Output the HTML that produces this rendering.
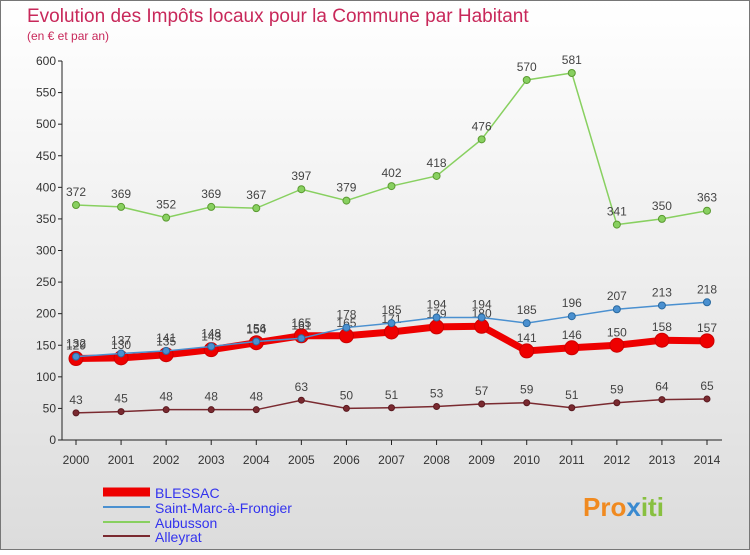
<!DOCTYPE html>
<html><head><meta charset="utf-8"><style>
body{margin:0;width:750px;height:550px;overflow:hidden;font-family:"Liberation Sans",sans-serif;}
svg text{font-family:"Liberation Sans",sans-serif;}
</style></head><body>
<svg id="chart" width="750" height="550" xmlns="http://www.w3.org/2000/svg">
<defs>
<linearGradient id="bg" x1="0" y1="0" x2="0" y2="1"><stop offset="0" stop-color="#ffffff"/><stop offset="1" stop-color="#dcdcdc"/></linearGradient>
</defs>
<rect x="0.5" y="0.5" width="749" height="549" fill="url(#bg)" stroke="#777"/>
<text x="27" y="22" font-size="19" fill="#c8285a">Evolution des Impôts locaux pour la Commune par Habitant</text>
<text x="27" y="40" font-size="12" fill="#c8285a">(en € et par an)</text>
<g id="axes"></g>
<g id="series"></g>
<g id="legend">
<line x1="103" y1="492" x2="150" y2="492" stroke="#ee0000" stroke-width="9"/>
<text x="155" y="498" font-size="14" fill="#3333ee">BLESSAC</text>
<line x1="103" y1="507" x2="150" y2="507" stroke="#4a90d0" stroke-width="2"/>
<text x="155" y="513" font-size="14" fill="#3333ee">Saint-Marc-à-Frongier</text>
<line x1="103" y1="522" x2="150" y2="522" stroke="#88d060" stroke-width="2"/>
<text x="155" y="528" font-size="14" fill="#3333ee">Aubusson</text>
<line x1="103" y1="536" x2="150" y2="536" stroke="#7a2a30" stroke-width="2"/>
<text x="155" y="542" font-size="14" fill="#3333ee">Alleyrat</text>
</g>
<text x="583" y="516" font-size="26" font-weight="bold" fill="#f08a20">Pro<tspan fill="#3a8ad0">x</tspan><tspan fill="#88c040">iti</tspan></text>
</svg>
<script>
const years=[2000,2001,2002,2003,2004,2005,2006,2007,2008,2009,2010,2011,2012,2013,2014];
const yTicks=[0,50,100,150,200,250,300,350,400,450,500,550,600];
const blessac=[129,130,135,143,154,165,165,171,179,180,141,146,150,158,157];
const saintMarc=[132,137,141,148,156,161,178,185,194,194,185,196,207,213,218];
const aubusson=[372,369,352,369,367,397,379,402,418,476,570,581,341,350,363];
const alleyrat=[43,45,48,48,48,63,50,51,53,57,59,51,59,64,65];
const NS="http://www.w3.org/2000/svg";
function xs(i){return 76+i*(707-76)/(years.length-1);}
function ys(v){return 440-v*(440-61)/600;}
function mk(tag,attrs,parent){const e=document.createElementNS(NS,tag);for(const k in attrs)e.setAttribute(k,attrs[k]);parent.appendChild(e);return e;}
const axes=document.getElementById('axes');
const ax=mk('line',{x1:62,y1:61,x2:62,y2:440,stroke:'#222'},axes);


const bx=mk('line',{x1:62,y1:440,x2:722,y2:440,stroke:'#222'},axes);


yTicks.forEach(v=>{
 const t=mk('text',{x:56,y:ys(v)+4,'font-size':12,fill:'#333','text-anchor':'end'},axes);t.textContent=v;
 
 
 const g=mk('line',{x1:58,y1:ys(v),x2:62,y2:ys(v),stroke:'#222'},axes);
 
 
});
years.forEach((y,i)=>{
 const t=mk('text',{x:xs(i),y:464,'font-size':12,fill:'#333','text-anchor':'middle'},axes);t.textContent=y;
 
 
 const g=mk('line',{x1:xs(i),y1:440,x2:xs(i),y2:445,stroke:'#222'},axes);
 
 
});
const S=document.getElementById('series');
function draw(name,data,color,w,r,stroke){
 const g=mk('g',{},S);
 
 
 const pl=mk('polyline',{points:data.map((v,i)=>xs(i)+','+ys(v)).join(' '),fill:'none',stroke:color,'stroke-width':w},g);
 
 
 data.forEach((v,i)=>{
  const c=mk('circle',{cx:xs(i),cy:ys(v),r:r,fill:color,stroke:stroke,'stroke-width':1},g);
  
  
  const t=mk('text',{x:xs(i),y:ys(v)-9,'font-size':12,fill:'#444','text-anchor':'middle'},g);t.textContent=v;
  
  
 });
}
draw('alleyrat',alleyrat,'#7a2a30',1.5,3,'#5a1a20');
draw('aubusson',aubusson,'#88d060',1.5,3.5,'#5a9a30');
draw('blessac',blessac,'#ee0000',7,7,'#cc0000');
draw('saint-marc',saintMarc,'#4a90d0',1.5,3.5,'#2a6aa0');
</script>
</body></html>
